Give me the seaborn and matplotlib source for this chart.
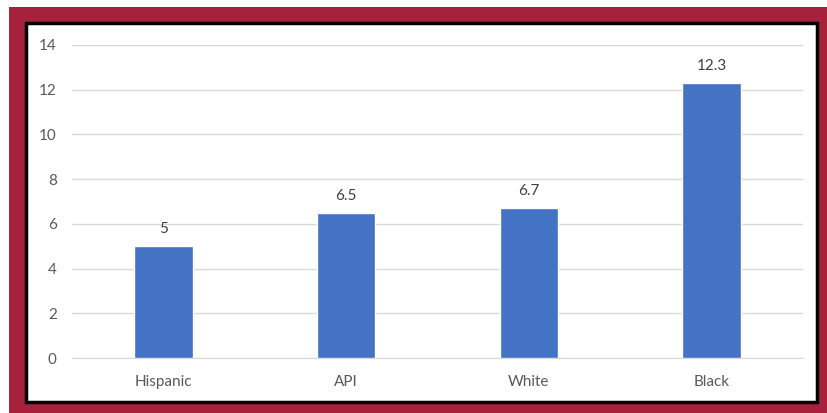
import seaborn as sns
import matplotlib.pyplot as plt
import pandas as pd
from matplotlib.patches import Rectangle

groups = ['Hispanic', 'API', 'White', 'Black']
values = [5, 6.5, 6.7, 12.3]
labels = ['5', '6.5', '6.7', '12.3']
yticks = [0, 2, 4, 6, 8, 10, 12, 14]

df = pd.DataFrame({'group': groups, 'value': values})

sns.set_style('white')
plt.rcParams['font.family'] = ['Lato', 'DejaVu Sans']

fig = plt.figure(figsize=(8.28, 4.13), dpi=100)
fig.patch.set_facecolor('white')
# maroon frame and black inner border
fig.patches.append(Rectangle((9 / 828, 0), 1, 1 - 7 / 413, transform=fig.transFigure,
                             facecolor='#A6213C', edgecolor='none', zorder=-2))
fig.patches.append(Rectangle((26 / 828, 11 / 413), (817 - 26) / 828, (402 - 23) / 413,
                             transform=fig.transFigure, facecolor='white',
                             edgecolor='black', linewidth=2.5, zorder=-1))

ax = fig.add_axes([72 / 828, 1 - 358 / 413, (803 - 72) / 828, (358 - 45) / 413])
ax.set_zorder(2)
ax.set_facecolor('none')
sns.barplot(data=df, x='group', y='value', color='#4472C4', width=0.32,
            saturation=1, ax=ax, zorder=3)

ax.set_ylim(0, 14)
ax.set_yticks(yticks)
ax.yaxis.grid(True, color='#D9D9D9', linewidth=1, zorder=0)
ax.set_axisbelow(True)
for s in ['top', 'right', 'left']:
    ax.spines[s].set_visible(False)
ax.spines['bottom'].set_color('#D9D9D9')
ax.tick_params(axis='both', length=0, labelsize=11, labelcolor='#595959')
ax.tick_params(axis='y', pad=11)
ax.tick_params(axis='x', pad=12)
ax.set_xlabel('')
ax.set_ylabel('')

for i, (v, t) in enumerate(zip(values, labels)):
    ax.text(i, v + 0.45, t, ha='center', va='bottom', fontsize=11, color='#404040')

fig.savefig('out.png', dpi=100)
